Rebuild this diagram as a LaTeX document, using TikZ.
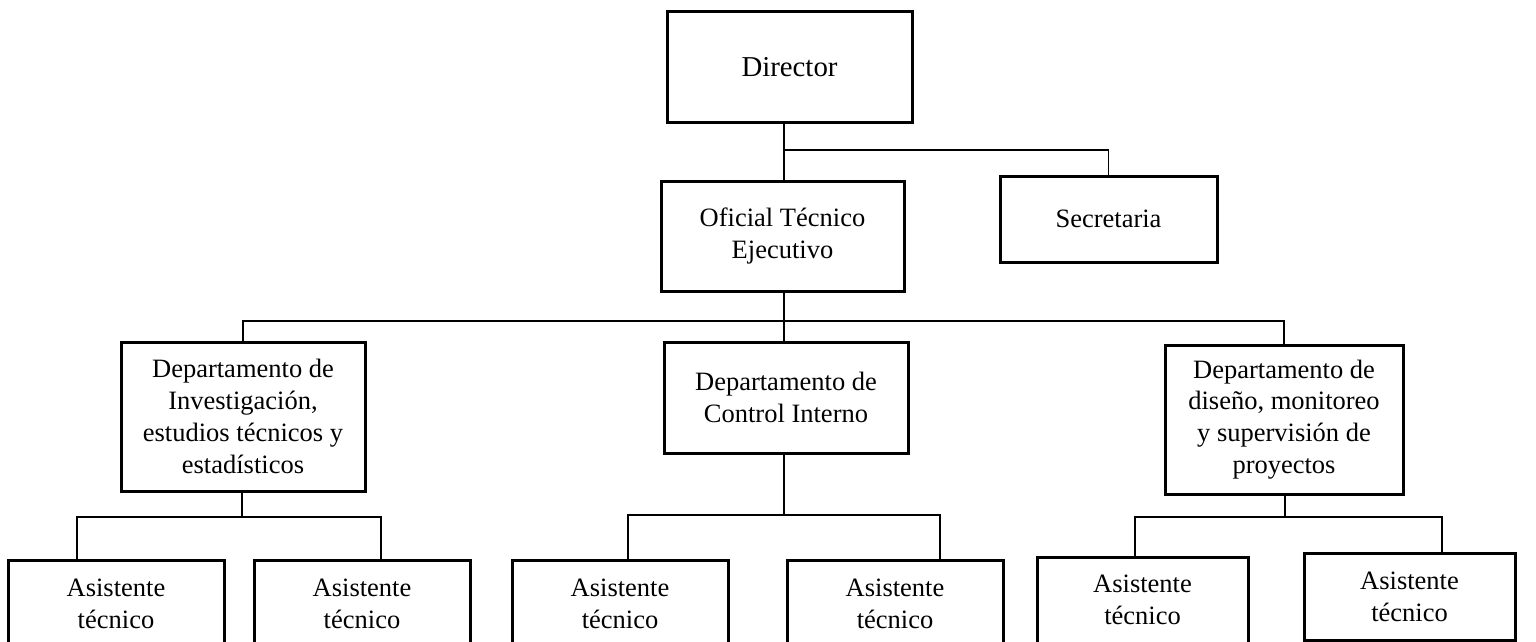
\documentclass[tikz,border=0pt]{standalone}
\usepackage{fontspec}
\setmainfont{Liberation Serif}
\begin{document}
\begin{tikzpicture}[x=0.5pt,y=-0.5pt,
  orgbox/.style={draw=black,line width=1.5pt,fill=white,inner sep=0pt,align=center,
    font=\fontsize{13.25}{15.9}\selectfont},
  link/.style={draw=black,line width=0.65pt}]
\useasboundingbox (0,0) rectangle (1536,642);
\clip (0,0) rectangle (1536,642);
\fill[white] (0,0) rectangle (1536,642);
% junction coordinates
\coordinate (jS) at (784,150);
\coordinate (busA) at (784,321);
\coordinate (bus1) at (242,517);
\coordinate (bus2) at (784,515);
\coordinate (bus3) at (1285,517);
\coordinate (a1) at (77,560);
\coordinate (a2) at (381,560);
\coordinate (a3) at (628,560);
\coordinate (a4) at (940,560);
\coordinate (a5) at (1135,557);
\coordinate (a6) at (1442,553);
% boxes
\node[orgbox,minimum width=122.5pt,minimum height=55.5pt,font=\fontsize{14.4}{17}\selectfont] (dir) at (789.5,67.5) {Director};
\node[orgbox,minimum width=121.5pt,minimum height=55pt] (ote) at (782.5,236) {Oficial Técnico\\Ejecutivo};
\node[orgbox,minimum width=108.5pt,minimum height=43pt] (sec) at (1108.5,219) {Secretaria};
\node[orgbox,minimum width=122pt,minimum height=74.5pt] (d1) at (243,416.5) {Departamento de\\Investigación,\\estudios técnicos y\\estadísticos};
\node[orgbox,minimum width=122pt,minimum height=55.5pt] (d2) at (786,397.5) {Departamento de\\Control Interno};
\node[orgbox,minimum width=119pt,minimum height=74.5pt] (d3) at (1284,419.5) {Departamento de\\diseño, monitoreo\\y supervisión de\\proyectos};
\node[orgbox,minimum width=108pt,minimum height=44pt] (as1) at (116,604) {Asistente\\técnico};
\node[orgbox,minimum width=108pt,minimum height=44pt] (as2) at (362,604) {Asistente\\técnico};
\node[orgbox,minimum width=108pt,minimum height=44pt] (as3) at (620,604) {Asistente\\técnico};
\node[orgbox,minimum width=108pt,minimum height=44pt] (as4) at (895,604) {Asistente\\técnico};
\node[orgbox,minimum width=105.5pt,minimum height=43pt] (as5) at (1142.5,600) {Asistente\\técnico};
\node[orgbox,minimum width=105.5pt,minimum height=43.5pt] (as6) at (1409.5,596.5) {Asistente\\técnico};
% links
\draw[link] (dir.south -| jS) -- (ote.north -| jS);
\draw[link] (jS) -| (sec.north);
\draw[link] (ote.south -| busA) -- (busA);
\draw[link] (d1.north) |- (busA) -| (d3.north);
\draw[link] (busA) -- (d2.north -| busA);
\draw[link] (d1.south -| bus1) -- (bus1);
\draw[link] (a1) |- (bus1) -| (a2);
\draw[link] (d2.south -| bus2) -- (bus2);
\draw[link] (a3) |- (bus2) -| (a4);
\draw[link] (d3.south -| bus3) -- (bus3);
\draw[link] (a5) |- (bus3) -| (a6);
\end{tikzpicture}
\end{document}
